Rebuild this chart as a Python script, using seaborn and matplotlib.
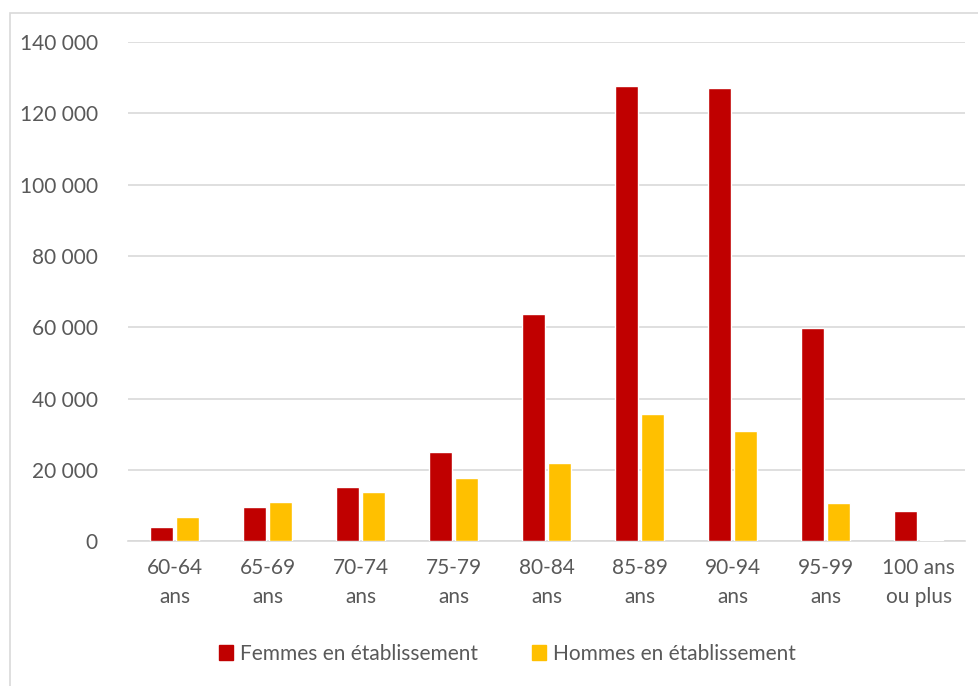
import pandas as pd
import matplotlib.pyplot as plt
import matplotlib.patches as mpatches
import seaborn as sns

# Data
categories = ['60-64\nans', '65-69\nans', '70-74\nans', '75-79\nans', '80-84\nans',
              '85-89\nans', '90-94\nans', '95-99\nans', '100 ans\nou plus']
femmes = [4000, 9700, 15300, 25100, 63700, 127600, 127000, 59700, 8500]
hommes = [6700, 11100, 13700, 17700, 21800, 35700, 30900, 10700, 400]
series_names = ['Femmes en établissement', 'Hommes en établissement']
colors = ['#c00000', '#ffc000']
yticks = [0, 20000, 40000, 60000, 80000, 100000, 120000, 140000]

df = pd.DataFrame({
    'age': categories * 2,
    'value': femmes + hommes,
    'serie': [series_names[0]] * len(categories) + [series_names[1]] * len(categories),
})

sns.set_style('white')
plt.rcParams['font.family'] = ['Lato', 'DejaVu Sans']
text_color = '#595959'

fig = plt.figure(figsize=(9.79, 6.86), dpi=100)
ax = fig.add_axes([0.131, 0.211, 0.855, 0.728])

sns.barplot(data=df, x='age', y='value', hue='serie', palette=colors, saturation=1,
            width=0.56, gap=0.12, ax=ax, legend=False, zorder=3)

ax.set_ylim(0, 140000)
ax.set_yticks(yticks)
ax.set_yticklabels([f'{v:,}'.replace(',', ' ') for v in yticks])
ax.yaxis.grid(True, color='#d9d9d9', linewidth=1.2, zorder=0)
ax.set_axisbelow(True)
for side in ['top', 'right', 'left']:
    ax.spines[side].set_visible(False)
ax.spines['bottom'].set_color('#d9d9d9')
ax.spines['bottom'].set_linewidth(1.2)
ax.tick_params(axis='both', length=0, labelsize=15, colors=text_color)
ax.tick_params(axis='y', pad=22)
ax.tick_params(axis='x', pad=12)
for lbl in ax.get_xticklabels():
    lbl.set_linespacing(1.55)
ax.set_xlabel('')
ax.set_ylabel('')

handles = [mpatches.Patch(color=c, label=n) for c, n in zip(colors, series_names)]
leg = fig.legend(handles=handles, loc='center', bbox_to_anchor=(0.518, 0.047), ncol=2,
                 frameon=False, fontsize=15, handlelength=0.7, handleheight=0.7,
                 handletextpad=0.3, columnspacing=2.6)
for t in leg.get_texts():
    t.set_color(text_color)

# chart area border
fig.patches.append(mpatches.Rectangle((10 / 979, -0.01), 1.0, 1 - 13 / 686 + 0.01,
                                      transform=fig.transFigure, fill=False,
                                      edgecolor='#d9d9d9', linewidth=1.2))

fig.savefig('out.png', dpi=100)
